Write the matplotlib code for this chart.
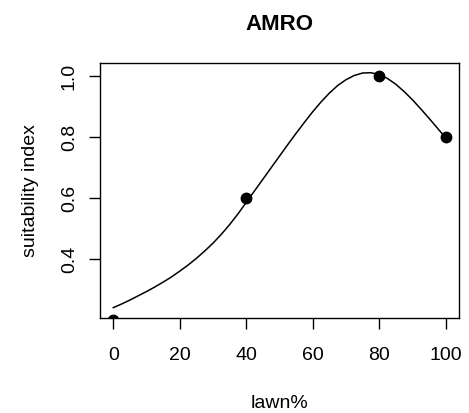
"""Suitability curve for AMRO against lawn cover."""
import matplotlib
matplotlib.use("Agg")
import matplotlib.pyplot as plt

# observed suitability values
lawn_pct = [0, 40, 80, 100]
suitability = [0.2, 0.6, 1.0, 0.8]

# fitted curve, sampled every 2.5 %
curve_x = [0, 2.5, 5, 7.5, 10, 12.5, 15, 17.5, 20, 22.5, 25, 27.5, 30, 32.5,
           35, 37.5, 40, 42.5, 45, 47.5, 50, 52.5, 55, 57.5, 60, 62.5, 65,
           67.5, 70, 72.5, 75, 77.5, 80, 82.5, 85, 87.5, 90, 92.5, 95, 97.5, 100]
curve_y = [0.240, 0.252, 0.265, 0.279, 0.293, 0.308, 0.324, 0.341, 0.360, 0.380,
           0.402, 0.426, 0.452, 0.481, 0.513, 0.548, 0.586, 0.624, 0.662, 0.700,
           0.738, 0.776, 0.813, 0.849, 0.884, 0.916, 0.945, 0.970, 0.989, 1.003,
           1.011, 1.012, 1.006, 0.993, 0.974, 0.950, 0.923, 0.893, 0.862, 0.830,
           0.798]

x_ticks = [0, 20, 40, 60, 80, 100]
y_ticks = [0.4, 0.6, 0.8, 1.0]

plt.rcParams["font.family"] = ["Liberation Sans", "DejaVu Sans"]

fig = plt.figure(figsize=(4.69, 4.13), dpi=100)
ax = fig.add_axes([0.2132, 0.230, 0.7655, 0.6175])

ax.plot(curve_x, curve_y, color="black", linewidth=1.1)
ax.plot(lawn_pct, suitability, "o", color="black", markersize=7.5)

ax.set_xlim(-4, 104)
ax.set_ylim(0.206, 1.044)
ax.set_xticks(x_ticks)
ax.set_yticks(y_ticks)
ax.set_yticklabels([f"{v:.1f}" for v in y_ticks], rotation=90, va="center")
ax.tick_params(direction="out", length=8, width=1, labelsize=14, pad=13)
ax.tick_params(axis="y", pad=8)
for s in ax.spines.values():
    s.set_linewidth(1)

ax.set_xlabel("lawn%", fontsize=14, labelpad=22)
ax.set_ylabel("suitability index", fontsize=14, labelpad=16)
ax.set_title("AMRO", fontsize=16, fontweight="bold", pad=24)

fig.savefig("out.png", dpi=100)
